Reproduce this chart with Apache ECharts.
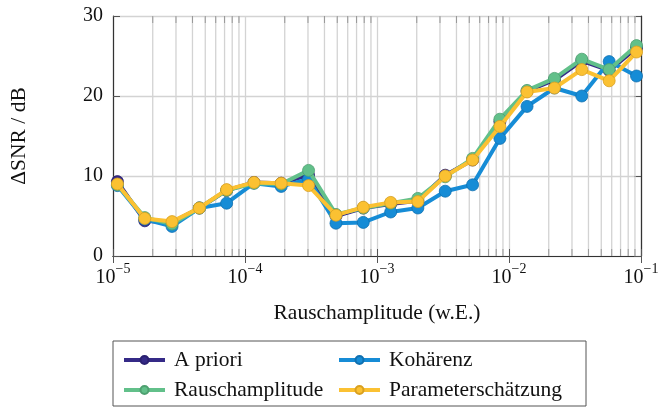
<!DOCTYPE html>
<html>
<head>
<meta charset="utf-8">
<script src="https://cdn.jsdelivr.net/npm/echarts@6/dist/echarts.min.js"></script>
<style>
  html, body { margin: 0; padding: 0; background: #fff; }
  #chart { width: 664px; height: 408px; }
</style>
</head>
<body>
<div id="chart"></div>
<script>
// noise amplitude (w.E.)
const amplitudes = [1.08e-5, 1.74e-5, 2.80e-5, 4.51e-5, 7.26e-5, 1.17e-4, 1.88e-4, 3.03e-4, 4.89e-4, 7.87e-4,
                    1.27e-3, 2.04e-3, 3.29e-3, 5.30e-3, 8.53e-3, 1.37e-2, 2.21e-2, 3.56e-2, 5.74e-2, 9.25e-2];

const aPriori        = [9.3, 4.4, 4.2, 6.0, 8.2, 9.2, 9.1, 10.1, 5.0, 6.0, 6.5, 6.9, 10.1, 12.0, 16.8, 20.6, 22.0, 24.4, 23.2, 26.0];
const kohaerenz      = [8.8, 4.6, 3.7, 6.0, 6.6, 9.1, 8.7, 9.6, 4.1, 4.2, 5.5, 6.0, 8.1, 8.9, 14.7, 18.7, 21.0, 20.0, 24.3, 22.5];
const rauschamp      = [8.9, 4.8, 4.0, 6.0, 8.2, 9.1, 9.0, 10.7, 5.2, 6.0, 6.6, 7.2, 9.9, 12.2, 17.1, 20.7, 22.2, 24.6, 23.3, 26.3];
const paramSchaetz   = [9.0, 4.7, 4.3, 6.0, 8.3, 9.2, 9.1, 8.8, 5.1, 6.1, 6.7, 6.8, 10.0, 12.0, 16.2, 20.5, 21.0, 23.3, 21.9, 25.5];

const seriesNames = ['A priori', 'Kohärenz', 'Rauschamplitude', 'Parameterschätzung'];
const seriesColors = ['#352a87', '#168cd6', '#62c08a', '#fbc132'];
const borderColors = ['#2a2070', '#1070b0', '#4ea070', '#d9a020'];

// minor grid positions 2..9 x 10^k
const minorTicks = [];
for (let k = -5; k < -1; k++) {
  for (let m = 2; m <= 9; m++) minorTicks.push([m * Math.pow(10, k), 0]);
}

const font = 'Liberation Serif';
const sup = { '-1': '−1', '-2': '−2', '-3': '−3', '-4': '−4', '-5': '−5' };

const chart = echarts.init(document.getElementById('chart'));

const lineSeries = [aPriori, kohaerenz, rauschamp, paramSchaetz].map((vals, i) => ({
  name: seriesNames[i],
  type: 'line',
  data: amplitudes.map((x, j) => [x, vals[j]]),
  symbol: 'circle',
  symbolSize: 12,
  showAllSymbol: true,
  z: 3 + i,
  lineStyle: { color: seriesColors[i], width: 4 },
  itemStyle: { color: seriesColors[i], borderColor: borderColors[i], borderWidth: 0.8 },
  emphasis: { disabled: true },
  animation: false
}));

const legends = seriesNames.map((name, i) => ({
  data: [name],
  left: i % 2 === 0 ? 122 : 337,
  top: i < 2 ? 348 : 378,
  orient: 'horizontal',
  padding: 0,
  itemWidth: 41,
  itemHeight: 10,
  selectedMode: false,
  lineStyle: { width: 4 },
  textStyle: { fontFamily: font, fontSize: 21.5, color: '#111', lineHeight: 24, padding: [0, 0, 0, 4] }
}));

const option = {
  backgroundColor: '#ffffff',
  animation: false,
  grid: { left: 113, right: 23, top: 16, bottom: 152 },
  legend: legends,
  graphic: [{
    type: 'rect',
    shape: { x: 113, y: 341, width: 473, height: 65 },
    style: { fill: 'none', stroke: '#555', lineWidth: 1 },
    silent: true
  }],
  xAxis: [{
    type: 'log',
    logBase: 10,
    min: 1e-5,
    max: 1e-1,
    name: 'Rauschamplitude (w.E.)',
    nameLocation: 'middle',
    nameGap: 46,
    nameTextStyle: { fontFamily: font, fontSize: 21.5, color: '#111' },
    axisLine: { lineStyle: { color: '#333', width: 1.2 } },
    axisTick: { inside: true, length: 7, lineStyle: { color: '#555' } },
    splitLine: { show: true, lineStyle: { color: '#d3d3d3', width: 1.3 } },
    axisLabel: {
      margin: 6,
      formatter: v => '{b|10}{s|' + sup[Math.round(Math.log10(v))] + '}',
      rich: {
        b: { fontFamily: font, fontSize: 20, color: '#111', lineHeight: 26, verticalAlign: 'bottom' },
        s: { fontFamily: font, fontSize: 14, color: '#111', lineHeight: 26, verticalAlign: 'top', padding: [0, 0, 6, 0] }
      }
    }
  }, {
    type: 'log',
    logBase: 10,
    min: 1e-5,
    max: 1e-1,
    position: 'top',
    axisLine: { lineStyle: { color: '#333', width: 1.2 } },
    axisTick: { inside: true, length: 7, lineStyle: { color: '#555' } },
    axisLabel: { show: false },
    splitLine: { show: false }
  }],
  yAxis: [{
    type: 'value',
    min: 0,
    max: 30,
    interval: 10,
    name: 'ΔSNR / dB',
    nameLocation: 'middle',
    nameGap: 83,
    nameTextStyle: { fontFamily: font, fontSize: 21.5, color: '#111' },
    axisLine: { show: true, lineStyle: { color: '#333', width: 1.2 } },
    axisTick: { inside: true, length: 7, lineStyle: { color: '#555' } },
    splitLine: { show: true, lineStyle: { color: '#d3d3d3', width: 1.3 } },
    axisLabel: { fontFamily: font, fontSize: 20, color: '#111', margin: 10 }
  }, {
    type: 'value',
    min: 0,
    max: 30,
    interval: 10,
    position: 'right',
    axisLine: { show: true, lineStyle: { color: '#333', width: 1.2 } },
    axisTick: { inside: true, length: 7, lineStyle: { color: '#555' } },
    axisLabel: { show: false },
    splitLine: { show: false }
  }],
  series: [{
    type: 'custom',
    name: 'minorGrid',
    z: 1,
    silent: true,
    data: minorTicks,
    encode: { x: 0, y: 1 },
    renderItem: (params, api) => {
      const x = api.coord([api.value(0), 0])[0];
      const cs = params.coordSys;
      return {
        type: 'group',
        children: [{
          type: 'line',
          shape: { x1: x, y1: cs.y, x2: x, y2: cs.y + cs.height },
          style: { stroke: '#d3d3d3', lineWidth: 1.3 }
        }, {
          type: 'line',
          shape: { x1: x, y1: cs.y, x2: x, y2: cs.y + 7 },
          style: { stroke: '#999', lineWidth: 1 }
        }, {
          type: 'line',
          shape: { x1: x, y1: cs.y + cs.height - 7, x2: x, y2: cs.y + cs.height },
          style: { stroke: '#999', lineWidth: 1 }
        }]
      };
    }
  }].concat(lineSeries)
};

chart.setOption(option);
</script>
</body>
</html>
